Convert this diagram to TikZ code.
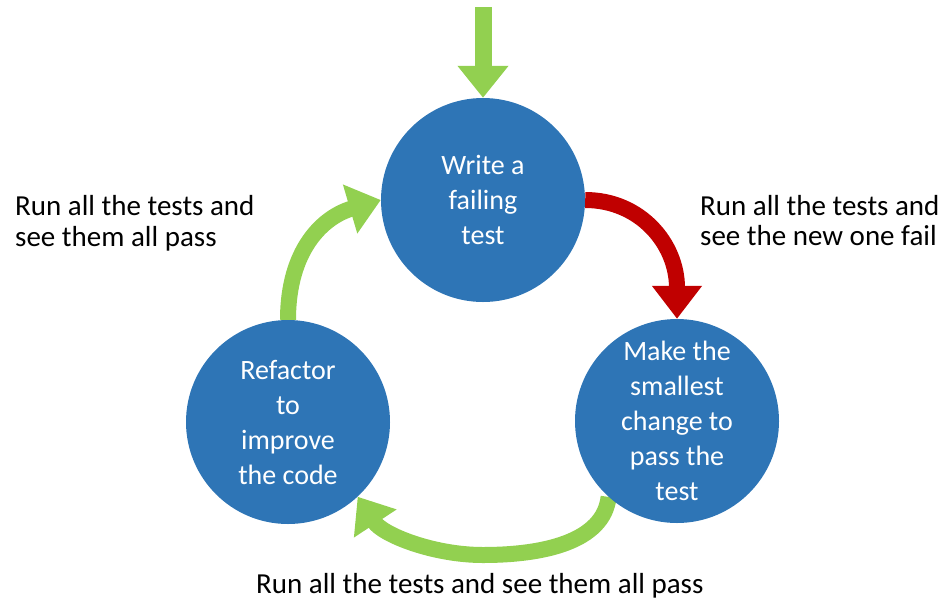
\documentclass[tikz,border=0pt]{standalone}
\usepackage{fontspec}
\setmainfont{Carlito}
\usetikzlibrary{arrows.meta,backgrounds}
\definecolor{cblue}{HTML}{2E75B6}
\definecolor{cgreen}{HTML}{92D050}
\definecolor{cred}{HTML}{C00000}
\begin{document}
\begin{tikzpicture}[x=1pt,y=-1pt,
  stepcircle/.style={circle, fill=cblue, minimum size=204pt, inner sep=0pt,
    text=white, align=center, font=\fontsize{28}{35}\selectfont},
  outertext/.style={anchor=base west, inner sep=0pt, font=\fontsize{29}{31}\selectfont},
  greenarrow/.style={color=cgreen, line width=16pt, -{Triangle[length=32pt,width=49pt]}},
  redarrow/.style={color=cred, line width=16pt, -{Triangle[length=33pt,width=48pt]}}
]
\useasboundingbox (0,0) rectangle (944,603);

\node[stepcircle] (write) at (483,200) {Write a\\failing\\test};
\node[stepcircle] (make) at (677,421) {Make the\\smallest\\change to\\pass the\\test};
\node[stepcircle] (refactor) at (288,422) {Refactor\\to\\improve\\the code};

\coordinate (entry) at (483,7);
\coordinate (bottommid) at (483,555);

\begin{scope}[on background layer]
\draw[greenarrow, line width=17pt] (entry) -- (write.north);
\draw[redarrow] (write.east) .. controls +(55,0) and +(0,-75) .. (make.north);
\draw[greenarrow] (refactor.north) .. controls +(0,-70) and +(-58,17) .. (write.west);
\draw[greenarrow] (make.228) .. controls +(-5,45) and +(60,0) .. (bottommid)
  .. controls +(-50,0) and +(25,38) .. (refactor.313);
\end{scope}

\node[outertext] (lt1) at (15,215) {Run all the tests and};
\node[outertext] (lt2) at (15,246) {see them all pass};
\node[outertext] (rt1) at (700,215) {Run all the tests and};
\node[outertext] (rt2) at (700,245) {see the new one fail};
\node[outertext] (bt) at (256,593) {Run all the tests and see them all pass};
\end{tikzpicture}
\end{document}
